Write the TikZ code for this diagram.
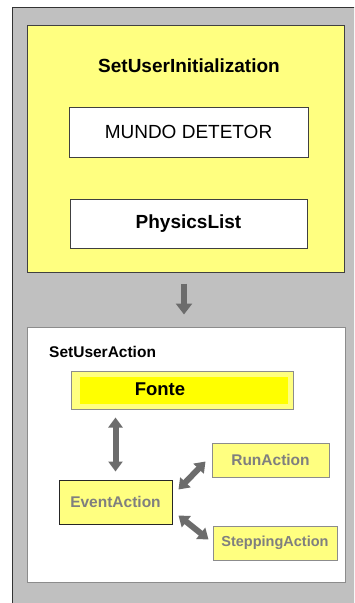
\documentclass[tikz,border=0pt]{standalone}
\usepackage{fontspec}
\setmainfont{Liberation Sans}
\usetikzlibrary{arrows.meta}
\definecolor{bggray}{HTML}{C0C0C0}
\definecolor{lyellow}{HTML}{FFFF80}
\definecolor{byellow}{HTML}{FFFF00}
\definecolor{txtgray}{HTML}{7F7F7F}
\definecolor{arrgray}{HTML}{6C6C6C}
\definecolor{bordgray}{HTML}{8C8C8C}
\tikzset{
  panel/.style={draw=#1, line width=1pt, inner sep=0pt},
  bigtext/.style={font=\fontsize{19}{22}\selectfont},
  midtext/.style={font=\bfseries\fontsize{15.5}{18}\selectfont},
  downarrow/.style={draw=arrgray, line width=6pt, -{Triangle[length=11pt,width=16pt]}},
  twoway/.style={draw=arrgray, line width=6pt, {Triangle[length=10pt,width=14pt]}-{Triangle[length=10pt,width=14pt]}},
}
\begin{document}
\begin{tikzpicture}[x=1pt,y=-1pt]
\useasboundingbox (0,0) rectangle (354,603);
\clip (0,0) rectangle (354,603);
% outer gray panel
\node[panel=black!80, fill=bggray, anchor=north west, minimum width=360pt, minimum height=610pt] (outer) at (12,7) {};
% initialization box
\node[panel=black!75, fill=lyellow, minimum width=317pt, minimum height=247pt] (init) at (185.5,148.5) {};
\node[bigtext, font=\bfseries\fontsize{19}{22}\selectfont] (inittitle) at (189,66) {SetUserInitialization};
\node[panel=black!75, fill=white, minimum width=239pt, minimum height=50pt, bigtext] (mundo) at (188.5,132) {MUNDO DETETOR};
\node[panel=black!75, fill=white, minimum width=237pt, minimum height=49pt, font=\bfseries\fontsize{19}{22}\selectfont] (phys) at (188.5,223.5) {PhysicsList};
% action box
\node[panel=bordgray, fill=white, minimum width=318pt, minimum height=255pt] (act) at (186,454.5) {};
\node[anchor=west, inner sep=0pt, midtext] (acttitle) at (49,352) {SetUserAction};
% Fonte
\node[panel=bordgray, fill=lyellow, minimum width=222pt, minimum height=38pt] (fonte) at (182,390) {};
\fill[byellow] ([shift={(9,6)}]fonte.north west) rectangle ([shift={(-6,-6)}]fonte.south east);
\node[inner sep=0pt, font=\bfseries\fontsize{18.5}{22}\selectfont] (fontetext) at (160,389) {Fonte};
% actions
\node[panel=black!85, fill=lyellow, minimum width=113pt, minimum height=44pt, midtext, text=txtgray] (ev) at (115.5,502) {EventAction};
\node[panel=bordgray, fill=lyellow, minimum width=117pt, minimum height=34pt, midtext, text=txtgray] (run) at (270.5,460) {RunAction};
\node[panel=bordgray, fill=lyellow, minimum width=124pt, minimum height=34pt, font=\bfseries\fontsize{14.5}{17}\selectfont, text=txtgray] (step) at (275,543) {SteppingAction};
% arrows
\draw[downarrow, shorten <=11pt, shorten >=12pt] ([xshift=-1.5pt]init.south) -- ([xshift=-1.5pt]init.south |- act.north);
\draw[twoway, shorten <=8pt, shorten >=8pt] (ev.north) -- (ev.north |- fonte.south);
\draw[twoway] ([shift={(6,10)}]ev.north east) -- ([shift={(-6,-16)}]run.south west);
\draw[twoway] ([shift={(6,-9)}]ev.south east) -- ([shift={(-4,14)}]step.north west);
\end{tikzpicture}
\end{document}
